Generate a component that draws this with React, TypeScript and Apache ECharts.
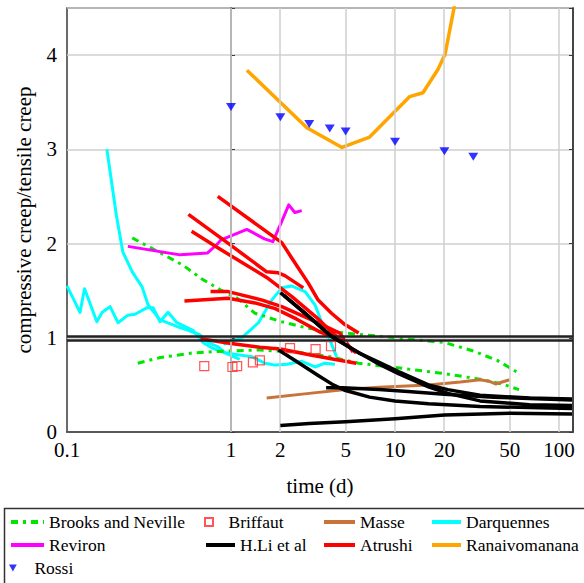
import React, { useEffect, useRef } from 'react';
import * as echarts from 'echarts';

type Pt = [number, number];

// ---- axes ----
const xTickValues = [0.1, 1, 2, 5, 10, 20, 50, 100];
const xTickLabels = ['0.1', '1', '2', '5', '10', '20', '50', '100'];
const xGridValues = [1, 2, 5, 10, 20, 50, 100];
const X_MIN = 0.1;
const X_MAX = 121.7;
const Y_MIN = 0;
const Y_MAX = 4.5;
const unityLines = [1.02, 0.973];

// ---- Brooks and Neville ----
const brooksUpper: Pt[] = [[0.25, 2.06], [0.39, 1.88], [0.51, 1.77], [0.67, 1.62], [0.86, 1.51], [1.09, 1.42], [1.4, 1.26], [2.04, 1.17], [2.96, 1.1], [5, 1.05], [6.6, 1.03], [10, 1.0], [15, 0.97], [20, 0.95], [30, 0.86], [42, 0.76], [55, 0.64]];
const brooksLower: Pt[] = [[0.27, 0.73], [0.37, 0.79], [0.59, 0.84], [0.95, 0.86], [1.5, 0.87], [2.5, 0.85], [4, 0.8], [6, 0.73], [9.5, 0.69], [13, 0.66], [20, 0.62], [33, 0.56], [45, 0.51], [57, 0.45]];

// ---- Briffaut ----
const briffaut: Pt[] = [[0.687, 0.7], [1.02, 0.69], [1.09, 0.7], [1.36, 0.74], [1.5, 0.76], [2.29, 0.89], [3.28, 0.88], [4.07, 0.91]];

// ---- Masse ----
const masse: Pt[] = [[1.65, 0.36], [3, 0.41], [5, 0.45], [8, 0.475], [16, 0.5], [25, 0.53], [33, 0.555], [38, 0.535], [41, 0.51], [50, 0.555]];

// ---- Darquennes ----
const darqA: Pt[] = [[0.175, 3.0], [0.2, 2.3], [0.219, 1.91], [0.25, 1.7], [0.287, 1.54], [0.312, 1.35], [0.369, 1.19], [0.468, 1.12], [0.55, 1.08], [0.647, 1.03], [0.727, 0.95], [0.84, 0.9], [0.92, 0.84], [1.13, 0.77]];
const darqB: Pt[] = [[0.1, 1.55], [0.12, 1.27], [0.128, 1.52], [0.152, 1.17], [0.164, 1.27], [0.183, 1.33], [0.205, 1.16], [0.235, 1.24], [0.26, 1.25], [0.308, 1.32], [0.335, 1.32], [0.369, 1.17], [0.413, 1.27], [0.468, 1.16], [0.586, 1.08], [0.675, 0.95], [0.77, 0.89], [0.92, 0.84], [1.1, 0.82], [1.34, 0.8], [1.61, 0.73], [1.86, 0.71], [2.2, 0.72], [2.7, 0.75], [3.25, 0.69], [3.74, 0.73], [4.3, 0.72]];
const darqC: Pt[] = [[0.9, 0.93], [1.16, 1.0], [1.47, 1.16], [1.77, 1.4], [2.04, 1.53], [2.34, 1.55], [2.83, 1.49], [3.25, 1.35], [3.6, 1.15], [4.0, 0.98], [4.4, 0.8]];

// ---- Reviron ----
const reviron: Pt[] = [[0.235, 1.97], [0.49, 1.88], [0.72, 1.9], [0.82, 1.99], [0.87, 2.04], [1.25, 2.15], [1.6, 2.05], [1.8, 2.02], [2.0, 2.2], [2.25, 2.41], [2.45, 2.33], [2.7, 2.35]];

// ---- H.Li et al ----
const hli1: Pt[] = [[2, 1.48], [2.75, 1.28], [4, 1.03], [6, 0.84], [8, 0.74], [10.5, 0.64], [16, 0.5], [21, 0.45], [33, 0.39], [66, 0.36], [120, 0.35]];
const hli2: Pt[] = [[2.1, 1.45], [3, 1.22], [4.2, 1.0], [5.5, 0.88], [8, 0.72], [10.5, 0.62], [16, 0.48], [21, 0.41], [33, 0.33], [66, 0.29], [120, 0.28]];
const hli3: Pt[] = [[1.95, 0.87], [2.5, 0.75], [3.4, 0.6], [4.2, 0.5], [5, 0.44], [7, 0.37], [10, 0.33], [16, 0.3], [33, 0.27], [66, 0.26], [120, 0.25]];
const hli4: Pt[] = [[3.8, 0.47], [4.8, 0.47], [8, 0.45], [12, 0.43], [20, 0.4], [40, 0.37], [120, 0.34]];
const hli5: Pt[] = [[2, 0.07], [3, 0.09], [5, 0.11], [10, 0.14], [20, 0.18], [50, 0.2], [120, 0.19]];

// ---- Atrushi ----
const atr1: Pt[] = [[0.83, 2.5], [2.04, 2.01], [2.34, 1.85], [2.96, 1.58], [3.4, 1.4], [4.1, 1.26], [4.95, 1.14], [6.0, 1.05]];
const atr2: Pt[] = [[0.55, 2.31], [1.0, 1.98], [1.65, 1.7], [1.94, 1.69], [2.13, 1.66], [2.76, 1.53]];
const atr3: Pt[] = [[0.575, 2.13], [0.84, 1.95], [1.65, 1.64], [2.34, 1.44], [3.4, 1.2], [4.3, 1.03], [5.8, 0.84]];
const atr4: Pt[] = [[0.52, 1.39], [0.96, 1.42], [1.4, 1.37], [1.86, 1.31], [2.5, 1.2], [3.5, 1.06], [4.3, 1.0]];
const atr5: Pt[] = [[0.75, 1.49], [0.96, 1.49], [1.55, 1.4], [2.04, 1.33], [3.1, 1.19], [4.6, 1.05], [5.55, 0.85]];
const atr6: Pt[] = [[0.65, 0.99], [1.0, 0.94], [1.5, 0.9], [2.0, 0.88], [3.0, 0.82], [4.0, 0.78], [5.8, 0.73]];

// ---- Ranaivomanana ----
const ranai: Pt[] = [[1.25, 3.84], [2.9, 3.23], [4.75, 3.02], [7.0, 3.13], [12.3, 3.56], [14.8, 3.6], [18.3, 3.85], [20.2, 4.01], [23.5, 4.6]];

// ---- Rossi ----
const rossi: Pt[] = [[1, 3.45], [2, 3.34], [3, 3.27], [4, 3.22], [5, 3.19], [10, 3.08], [20, 2.98], [30, 2.92]];

const FONT = 'Liberation Serif';
const lg = (v: number) => Math.log10(v);
const toLog = (pts: Pt[]) => pts.map(([x, y]) => [lg(x), y]);

const lineSeries = (name: string, pts: Pt[], color: string, width: number, z: number, type: any = 'solid') => ({
  type: 'line',
  name,
  data: toLog(pts),
  symbol: 'none',
  showSymbol: false,
  lineStyle: { color, width, type, cap: 'butt', join: 'round' },
  itemStyle: { color },
  z,
  silent: true,
});

const GREEN = '#00e600';
const CYAN = '#00ffff';
const MAGENTA = '#ff00ff';
const ORANGE = '#ffa500';
const BROWN = '#c8733a';
const RED = '#ff0000';
const BLUE = '#0000ff';
const dashDot = [7, 5, 3, 5];

const series: any[] = [
  {
    type: 'line',
    name: '_grid',
    data: [],
    z: 1,
    silent: true,
    markLine: {
      silent: true,
      symbol: 'none',
      label: { show: false },
      animation: false,
      lineStyle: { color: '#cfcfcf', width: 1.5, type: 'solid' },
      data: xGridValues.map((v) => ({ xAxis: lg(v) })),
    },
  },
  lineSeries('Darquennes', darqA, CYAN, 3, 2),
  lineSeries('Darquennes', darqB, CYAN, 3, 2),
  lineSeries('Darquennes', darqC, CYAN, 3, 2),
  lineSeries('Brooks and Neville', brooksUpper, GREEN, 3, 3, dashDot),
  lineSeries('Brooks and Neville', brooksLower, GREEN, 3, 3, dashDot),
  lineSeries('Reviron', reviron, MAGENTA, 3, 3),
  lineSeries('Ranaivomanana', ranai, ORANGE, 3.5, 3),
  lineSeries('Masse', masse, BROWN, 3, 3),
  lineSeries('Atrushi', atr1, RED, 3.5, 4),
  lineSeries('Atrushi', atr2, RED, 3.5, 4),
  lineSeries('Atrushi', atr3, RED, 3.5, 4),
  lineSeries('Atrushi', atr4, RED, 3.5, 4),
  lineSeries('Atrushi', atr5, RED, 3.5, 4),
  lineSeries('Atrushi', atr6, RED, 3.5, 4),
  lineSeries('H.Li et al', hli1, '#000', 3.5, 5),
  lineSeries('H.Li et al', hli2, '#000', 3.5, 5),
  lineSeries('H.Li et al', hli3, '#000', 3.5, 5),
  lineSeries('H.Li et al', hli4, '#000', 3.5, 5),
  lineSeries('H.Li et al', hli5, '#000', 3.5, 5),
  {
    type: 'line',
    name: '_unity',
    data: [],
    z: 6,
    silent: true,
    markLine: {
      silent: true,
      symbol: 'none',
      label: { show: false },
      animation: false,
      lineStyle: { color: '#222', width: 2.6, type: 'solid' },
      data: unityLines.map((v) => ({ yAxis: v })),
    },
  },
  {
    type: 'scatter',
    name: 'Briffaut',
    data: toLog(briffaut),
    symbol: 'path://M0,0H10V10H0Z',
    symbolSize: 9,
    itemStyle: { color: 'rgba(255,255,255,0)', borderColor: '#ff2a2a', borderWidth: 1.2 },
    z: 7,
    silent: true,
  },
  {
    type: 'scatter',
    name: 'Rossi',
    data: toLog(rossi),
    symbol: 'path://M0,0L10,0L5,9Z',
    symbolSize: [10, 8],
    itemStyle: { color: BLUE },
    z: 7,
    silent: true,
  },
];

const legendBase = {
  orient: 'horizontal',
  padding: 0,
  itemHeight: 14,
  selectedMode: false,
  symbolKeepAspect: true,
  textStyle: { fontFamily: FONT, fontSize: 17.5, color: '#000' },
};
const col = [9, 204, 322, 430];
const colW = [33, 29, 31, 29];
const rowTop = [513, 536, 559];
const legendItems: [string, number, number][] = [
  ['Brooks and Neville', 0, 0],
  ['Briffaut', 1, 0],
  ['Masse', 2, 0],
  ['Darquennes', 3, 0],
  ['Reviron', 0, 1],
  ['H.Li et al', 1, 1],
  ['Atrushi', 2, 1],
  ['Ranaivomanana', 3, 1],
  ['Rossi', 0, 2],
];
const symbolLegends = ['Briffaut', 'Rossi'];
const legends = legendItems.map(([name, c, r]) => {
  const isSymbol = symbolLegends.includes(name);
  return {
    ...legendBase,
    left: col[c],
    top: rowTop[r],
    itemWidth: colW[c],
    itemHeight: name === 'Briffaut' ? 8 : name === 'Rossi' ? 7 : 14,
    ...(isSymbol
      ? {}
      : {
          itemStyle: { color: 'rgba(0,0,0,0)', borderColor: 'rgba(0,0,0,0)', borderWidth: 0, opacity: 0 },
          lineStyle: { width: 4 },
        }),
    data: [name],
  };
});

const option: any = {
  animation: false,
  backgroundColor: '#fff',
  grid: {
    left: 67,
    top: 8,
    width: 506,
    height: 424,
    show: true,
    borderColor: '#3a3a3a',
    borderWidth: 1.5,
    backgroundColor: 'transparent',
  },
  xAxis: {
    type: 'value',
    min: lg(X_MIN),
    max: lg(X_MAX),
    name: 'time (d)',
    nameLocation: 'middle',
    nameGap: 43,
    nameTextStyle: { fontFamily: FONT, fontSize: 21, color: '#000' },
    axisLine: { show: true, lineStyle: { color: '#3a3a3a', width: 1.5 } },
    axisTick: { show: false },
    splitLine: { show: false },
    axisLabel: {
      customValues: xTickValues.map(lg),
      formatter: (v: number) => {
        const i = xTickValues.findIndex((t) => Math.abs(lg(t) - v) < 1e-6);
        return i >= 0 ? xTickLabels[i] : '';
      },
      color: '#000',
      fontFamily: FONT,
      fontSize: 21,
      lineHeight: 20,
      margin: 8,
    },
  },
  yAxis: [
    {
      type: 'value',
      min: Y_MIN,
      max: Y_MAX,
      interval: 1,
      name: 'compressive creep/tensile creep',
      nameLocation: 'middle',
      nameGap: 33,
      nameTextStyle: { fontFamily: FONT, fontSize: 21, color: '#000' },
      axisLine: { show: true, lineStyle: { color: '#3a3a3a', width: 1.5 } },
      axisTick: { show: true, inside: true, length: 4, lineStyle: { color: '#3a3a3a' } },
      splitLine: { show: true, lineStyle: { color: '#cfcfcf', width: 1.5 } },
      axisLabel: {
        formatter: (v: number) => (v > 4.01 ? '' : String(v)),
        color: '#000',
        fontFamily: FONT,
        fontSize: 21,
        lineHeight: 16,
        margin: 10,
      },
    },
    {
      type: 'value',
      position: 'right',
      min: Y_MIN,
      max: Y_MAX,
      interval: 1,
      axisLine: { show: true, lineStyle: { color: '#3a3a3a', width: 1.5 } },
      axisTick: { show: true, inside: true, length: 4, lineStyle: { color: '#3a3a3a' } },
      splitLine: { show: false },
      axisLabel: { show: false },
    },
  ],
  legend: legends,
  graphic: [
    {
      type: 'rect',
      shape: { x: 4.5, y: 508.5, width: 640, height: 140 },
      style: { fill: 'none', stroke: '#333', lineWidth: 1.5 },
      silent: true,
      z: -1,
    },
  ],
  series,
};

export default function App() {
  const ref = useRef<HTMLDivElement>(null);
  useEffect(() => {
    const chart = echarts.init(ref.current!, null, { renderer: 'svg' });
    chart.setOption(option);
    return () => chart.dispose();
  }, []);
  return (
    <div
      ref={ref}
      style={{ position: 'fixed', left: 0, top: 0, width: 584, height: 583, background: '#fff' }}
    />
  );
}
